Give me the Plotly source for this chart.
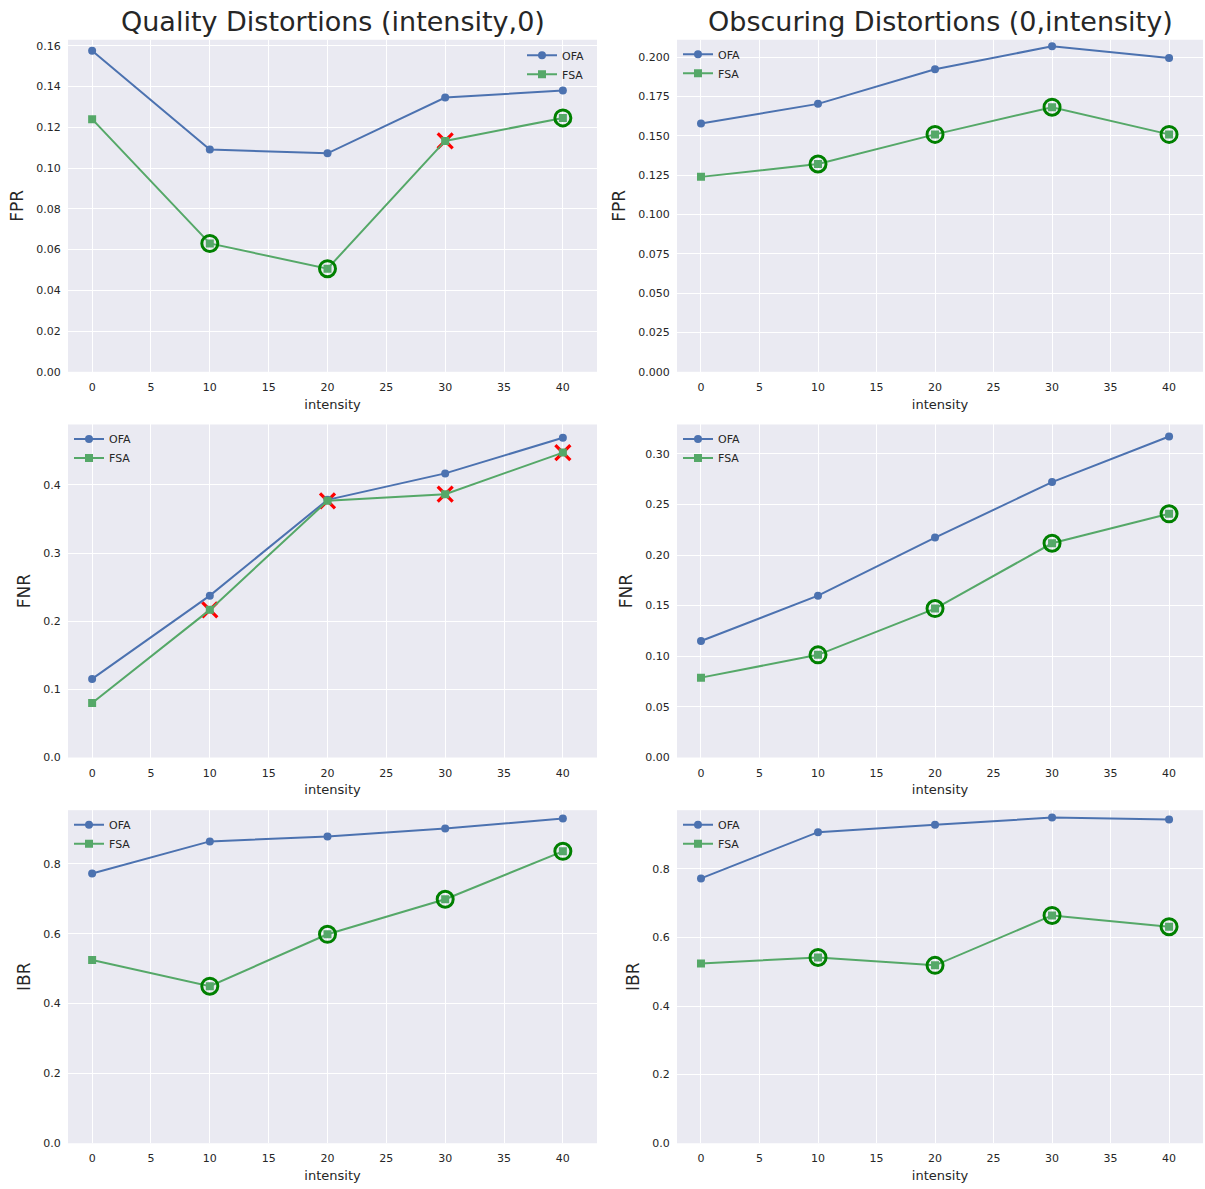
import plotly.graph_objects as go

# ---------------- data ----------------
intensity = [0, 10, 20, 30, 40]
x_ticks = [0, 5, 10, 15, 20, 25, 30, 35, 40]

q_fpr_ofa = [0.1576, 0.1091, 0.1072, 0.1346, 0.1380]
q_fpr_fsa = [0.1240, 0.0630, 0.0506, 0.1133, 0.1246]
o_fpr_ofa = [0.1578, 0.1703, 0.1923, 0.2069, 0.1994]
o_fpr_fsa = [0.1239, 0.1321, 0.1509, 0.1682, 0.1509]
q_fnr_ofa = [0.1154, 0.2376, 0.3782, 0.4170, 0.4693]
q_fnr_fsa = [0.0800, 0.2167, 0.3767, 0.3864, 0.4475]
o_fnr_ofa = [0.1151, 0.1598, 0.2172, 0.2720, 0.3170]
o_fnr_fsa = [0.0789, 0.1014, 0.1471, 0.2116, 0.2407]
q_ibr_ofa = [0.7725, 0.8644, 0.8786, 0.9013, 0.9297]
q_ibr_fsa = [0.5245, 0.4497, 0.5983, 0.6987, 0.8360]
o_ibr_ofa = [0.7720, 0.9070, 0.9282, 0.9494, 0.9436]
o_ibr_fsa = [0.5243, 0.5417, 0.5186, 0.6641, 0.6313]

# flags on FSA points: "better" -> green ring, "worse" -> red cross
q_fpr_flag = ["", "better", "better", "worse", "better"]
o_fpr_flag = ["", "better", "better", "better", "better"]
q_fnr_flag = ["", "worse", "worse", "worse", "worse"]
o_fnr_flag = ["", "better", "better", "better", "better"]
q_ibr_flag = ["", "better", "better", "better", "better"]
o_ibr_flag = ["", "better", "better", "better", "better"]

titles = ["Quality Distortions (intensity,0)", "Obscuring Distortions (0,intensity)"]
metric_names = ["FPR", "FNR", "IBR"]

y_ticks = {
    (0, 0): ([0, 0.02, 0.04, 0.06, 0.08, 0.10, 0.12, 0.14, 0.16], ".2f"),
    (0, 1): ([0, 0.025, 0.05, 0.075, 0.1, 0.125, 0.15, 0.175, 0.2], ".3f"),
    (1, 0): ([0, 0.1, 0.2, 0.3, 0.4], ".1f"),
    (1, 1): ([0, 0.05, 0.10, 0.15, 0.20, 0.25, 0.30], ".2f"),
    (2, 0): ([0, 0.2, 0.4, 0.6, 0.8], ".1f"),
    (2, 1): ([0, 0.2, 0.4, 0.6, 0.8], ".1f"),
}

panels = {
    (0, 0): (q_fpr_ofa, q_fpr_fsa, q_fpr_flag),
    (0, 1): (o_fpr_ofa, o_fpr_fsa, o_fpr_flag),
    (1, 0): (q_fnr_ofa, q_fnr_fsa, q_fnr_flag),
    (1, 1): (o_fnr_ofa, o_fnr_fsa, o_fnr_flag),
    (2, 0): (q_ibr_ofa, q_ibr_fsa, q_ibr_flag),
    (2, 1): (o_ibr_ofa, o_ibr_fsa, o_ibr_flag),
}

# ---------------- layout geometry ----------------
W, H = 1205, 1189
col_px = [(68, 597), (677, 1203)]
row_px = [(40, 374), (427, 762), (815, 1150)]
BLUE = "#4C72B0"
GREEN = "#55A868"
TXT = "#262626"
FONT = "DejaVu Sans"

fig = go.Figure()
layout_updates = {}
idx = 0
for r in range(3):
    for c in range(2):
        idx += 1
        xa = "x" if idx == 1 else f"x{idx}"
        ya = "y" if idx == 1 else f"y{idx}"
        leg = "legend" if idx == 1 else f"legend{idx}"
        ofa, fsa, flag = panels[(r, c)]

        worse_x = [xv for xv, f in zip(intensity, flag) if f == "worse"]
        worse_y = [yv for yv, f in zip(fsa, flag) if f == "worse"]
        better_x = [xv for xv, f in zip(intensity, flag) if f == "better"]
        better_y = [yv for yv, f in zip(fsa, flag) if f == "better"]
        if worse_x:
            fig.add_trace(go.Scatter(
                x=worse_x, y=worse_y, mode="markers", showlegend=False,
                marker=dict(symbol="x-thin-open", size=15, color="red",
                            line=dict(color="red", width=3.2)),
                xaxis=xa, yaxis=ya, hoverinfo="skip"))
        fig.add_trace(go.Scatter(
            x=intensity, y=ofa, mode="lines+markers", name="OFA",
            line=dict(color=BLUE, width=2), marker=dict(symbol="circle", size=8, color=BLUE),
            xaxis=xa, yaxis=ya, legend=leg))
        fig.add_trace(go.Scatter(
            x=intensity, y=fsa, mode="lines+markers", name="FSA",
            line=dict(color=GREEN, width=2), marker=dict(symbol="square", size=8, color=GREEN),
            xaxis=xa, yaxis=ya, legend=leg))
        if better_x:
            fig.add_trace(go.Scatter(
                x=better_x, y=better_y, mode="markers", showlegend=False,
                marker=dict(symbol="circle-open", size=16, color="green",
                            line=dict(color="green", width=3)),
                xaxis=xa, yaxis=ya, hoverinfo="skip"))

        lo, hi = min(ofa + fsa), max(ofa + fsa)
        ytop = hi + 0.05 * (hi - lo)
        tv, fmt = y_ticks[(r, c)]
        x0, x1 = col_px[c]
        y0, y1 = row_px[r]
        layout_updates[xa.replace("x", "xaxis")] = dict(
            domain=[x0 / W, x1 / W], anchor=ya, range=[-2.05, 42.9],
            tickvals=x_ticks, ticks="outside", ticklen=5, tickcolor="white",
            showgrid=True, gridcolor="white", gridwidth=1, zeroline=False,
            showline=False, tickfont=dict(size=11, color=TXT, family=FONT),
            title=dict(text="intensity", font=dict(size=13, color=TXT, family=FONT), standoff=6))
        layout_updates[ya.replace("y", "yaxis")] = dict(
            domain=[1 - y1 / H, 1 - y0 / H], anchor=xa, range=[0, ytop],
            tickvals=tv, tickformat=fmt, ticks="outside", ticklen=4, tickcolor="white",
            showgrid=True, gridcolor="white", gridwidth=1, zeroline=False,
            showline=False, tickfont=dict(size=11, color=TXT, family=FONT),
            title=dict(text=metric_names[r], font=dict(size=17, color=TXT, family=FONT), standoff=8))
        if (r, c) == (0, 0):
            lx, ly = 522 / W, 1 - 41 / H
        else:
            lx = (col_px[c][0] + 1) / W
            ly = 1 - (row_px[r][0] + 0) / H
        layout_updates[leg] = dict(
            x=lx, y=ly, xanchor="left", yanchor="top", bgcolor="rgba(0,0,0,0)",
            font=dict(size=11, color=TXT, family=FONT), itemwidth=30,
            tracegroupgap=0)

annotations = []
for c in range(2):
    x0, x1 = col_px[c]
    annotations.append(dict(
        text=titles[c], x=(x0 + x1) / 2 / W, y=1 - 22 / H, xref="paper", yref="paper",
        xanchor="center", yanchor="middle", showarrow=False,
        font=dict(size=27, color=TXT, family=FONT)))

fig.update_layout(
    width=W, height=H, margin=dict(l=0, r=0, t=0, b=0),
    paper_bgcolor="white", plot_bgcolor="#EAEAF2",
    font=dict(family=FONT, color=TXT),
    annotations=annotations, showlegend=True,
    **layout_updates)

fig.write_html(
    "out.html",
    config={"displayModeBar": False},
    post_script="document.body.style.margin='0';document.body.style.overflow='hidden';",
)
